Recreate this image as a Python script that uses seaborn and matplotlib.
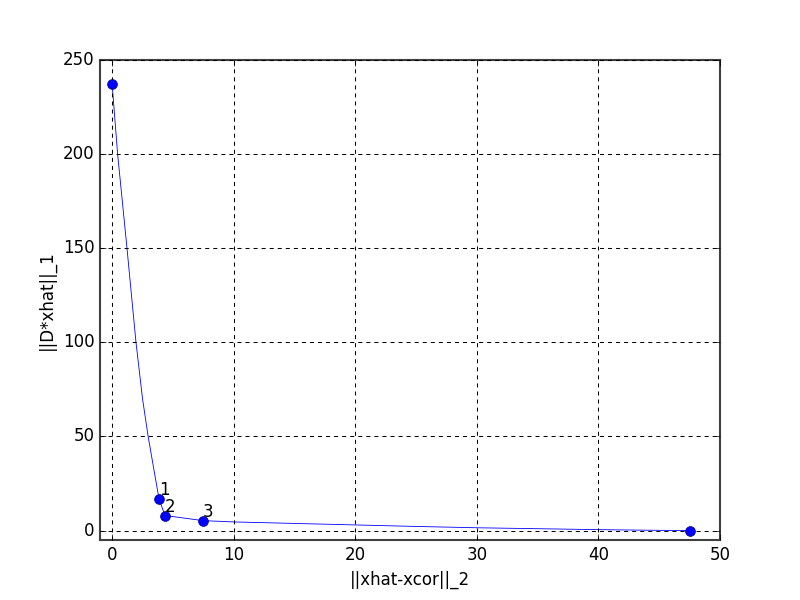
import matplotlib
matplotlib.use("Agg")
import matplotlib.pyplot as plt
import seaborn as sns
import pandas as pd

# trade-off curve
curve_x = [0.0, 0.45, 1.22, 1.96, 2.5, 2.96, 3.85, 4.34, 7.47, 10.0, 15.0, 20.0, 25.0, 30.0, 35.0, 40.0, 44.0, 47.5]
curve_y = [237.0, 200.0, 150.0, 100.0, 70.0, 50.0, 17.0, 8.0, 5.3, 4.6, 3.8, 3.0, 2.2, 1.5, 1.0, 0.5, 0.2, 0.0]

# highlighted points
pts_x = [0.0, 3.85, 4.34, 7.47, 47.5]
pts_y = [237.0, 17.0, 8.0, 5.3, 0.0]
pt_labels = ["", "1", "2", "3", ""]

sns.set_style("ticks", {"axes.grid": True})
plt.style.use("classic")
plt.rcParams["font.family"] = ["DejaVu Sans"]

fig, ax = plt.subplots(figsize=(8, 6), dpi=100)
fig.patch.set_facecolor("white")

curve = pd.DataFrame({"x": curve_x, "y": curve_y})
pts = pd.DataFrame({"x": pts_x, "y": pts_y})

sns.lineplot(data=curve, x="x", y="y", sort=False, estimator=None, color="b",
             linewidth=0.6, ax=ax)
sns.scatterplot(data=pts, x="x", y="y", color="b", s=50, edgecolor="#000080",
                linewidth=0.5, ax=ax, zorder=3)
for xv, yv, lab in zip(pts_x, pts_y, pt_labels):
    if lab:
        ax.text(xv, yv, lab, fontsize=12, ha="left", va="bottom")

ax.set_xlim(-1, 50)
ax.set_ylim(-5, 250)
ax.set_xticks([0, 10, 20, 30, 40, 50])
ax.set_yticks([0, 50, 100, 150, 200, 250])
ax.grid(True, color="k", linestyle=(0, (2.9, 2.9)), linewidth=0.75)
for sp in ax.spines.values():
    sp.set_linewidth(1.5)
    sp.set_color("#404040")
ax.set_xlabel("||xhat-xcor||_2", fontsize=12)
ax.set_ylabel("||D*xhat||_1", fontsize=12)
ax.tick_params(labelsize=12)
fig.subplots_adjust(left=0.125, right=0.9, bottom=0.1, top=0.9)
fig.savefig("out.png", dpi=100, facecolor="white")
